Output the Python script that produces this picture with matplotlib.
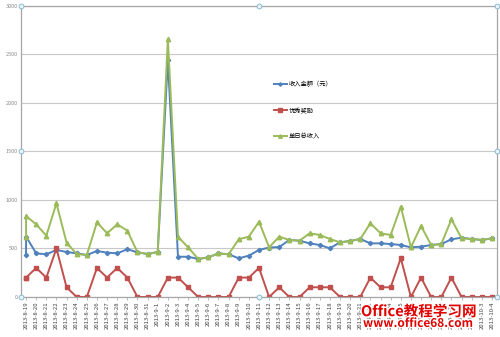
import pandas as pd
import matplotlib
matplotlib.use("Agg")
import matplotlib.pyplot as plt
import matplotlib.patheffects as pe

plt.rcParams["font.family"] = ["Noto Sans CJK SC", "DejaVu Sans"]

# 日期（第一天在表里出现了两次）
days = pd.date_range("2013-08-19", "2013-10-04")
dates = days.insert(0, days[0])

# 收入金额（元）
income = [433, 622, 450, 440, 485, 464, 450, 433, 474, 457, 450, 492, 461, 443,
          464, 2443, 415, 415, 392, 409, 450, 440, 399, 426, 485, 510, 515, 588,
          580, 553, 536, 502, 564, 577, 598, 553, 553, 546, 536, 512, 519, 536,
          546, 595, 611, 598, 588, 605]
# 优秀奖励
bonus = [200, 200, 300, 200, 500, 100, 0, 0, 300, 200, 300, 200, 0, 0,
         0, 200, 200, 100, 0, 0, 0, 0, 200, 200, 300, 0, 100, 0,
         0, 100, 100, 100, 0, 0, 0, 200, 100, 100, 400, 0, 200, 0,
         0, 200, 0, 0, 0, 0]
# 单日总收入
total = [619, 835, 749, 632, 966, 560, 443, 433, 770, 657, 749, 684, 461, 443,
         464, 2657, 622, 512, 392, 409, 450, 440, 595, 622, 776, 512, 622, 588,
         580, 657, 639, 598, 564, 577, 598, 760, 657, 639, 931, 512, 732, 536,
         546, 801, 605, 598, 588, 605]

y_ticks = [0, 500, 1000, 1500, 2000, 2500, 3000]

fig = plt.figure(figsize=(5, 3.37), dpi=100)
ax = fig.add_axes([0.042, 0.1187, 0.952, 0.8635])

ax.plot(dates, income, color="#4F81BD", lw=1.4, marker="D", ms=2.2,
        label="收入金额（元）")
ax.plot(dates, bonus, color="#C0504D", lw=1.4, marker="s", ms=3.4,
        label="优秀奖励")
ax.plot(dates, total, color="#9BBB59", lw=1.4, marker="^", ms=3.2,
        label="单日总收入")

ax.set_ylim(0, 3000)
ax.set_yticks(y_ticks)
ax.set_xlim(days[0] - pd.Timedelta(hours=12), days[-1] + pd.Timedelta(hours=12))
ax.set_xticks(days)
ax.set_xticklabels([f"{d.year}-{d.month}-{d.day}" for d in days],
                   rotation=90, fontsize=4.3, color="#404040")
ax.tick_params(axis="y", length=0, labelsize=4, labelcolor="#8c8c8c", pad=2.5)
ax.tick_params(axis="x", length=2, width=0.5, color="#a0a0a0", pad=1.5)

ax.grid(axis="y", color="#c8c8c8", lw=0.8)
ax.set_axisbelow(True)
for side in ["left", "bottom", "top", "right"]:
    ax.spines[side].set_color("#a6a6a6")
    ax.spines[side].set_linewidth(0.9)

ax.legend(loc="upper left", bbox_to_anchor=(0.52, 0.765), frameon=False,
          fontsize=4.5, labelspacing=2.9, handlelength=2.0,
          handletextpad=0.3, markerscale=0.8)

# 选中绘图区时的小圆点
for hx, hy in [(0, 1), (0.5, 1), (1, 1), (1, 0.5), (0, 0.5), (0, 0), (0.5, 0), (1, 0)]:
    ax.plot(hx, hy, "o", ms=3.5, mfc="#e8f4fa", mec="#7fb2cc", mew=0.6,
            transform=ax.transAxes, clip_on=False, zorder=5)

# 网站水印
wm = [pe.withStroke(linewidth=2, foreground="white")]
fig.text(0.722, 0.062, "Office教程学习网", color="#e00000", fontsize=10.5,
         fontweight="bold", fontstyle="italic", path_effects=wm, zorder=10)
fig.text(0.726, 0.03, "www.office68.com", color="#e00000", fontsize=8.5,
         fontweight="bold", path_effects=wm, zorder=10)

fig.savefig("out.png", dpi=100)
